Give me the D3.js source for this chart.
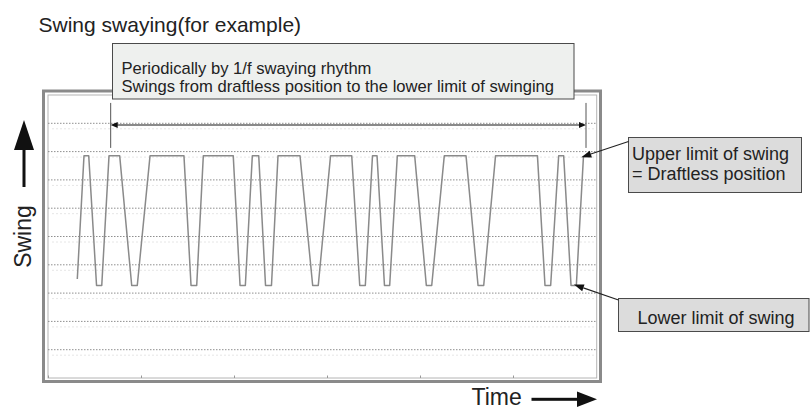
<!DOCTYPE html>
<html><head><meta charset="utf-8">
<script src="https://cdn.jsdelivr.net/npm/d3@7"></script>
<style>html,body{margin:0;padding:0;background:#fff;} svg{display:block;font-family:"Liberation Sans",Arial,Helvetica,sans-serif;}</style>
</head><body><svg id="c" width="810" height="408"></svg>
<script>
// ---- data ----
const UP = 7.85, LO = 3.27;
const swingTimes  = [3.15, 3.87, 4.38, 5.22, 5.78, 6.56, 7.71, 9.0, 9.6, 10.97, 14.62, 15.38, 15.99,
  16.70, 19.92, 20.65, 21.22, 21.97, 22.66, 23.39, 24.03, 24.73, 27.10, 28.46, 29.06,
  30.38, 32.66, 33.52, 34.12, 34.89, 35.38, 36.18, 36.74, 37.56, 39.43, 40.68, 41.26,
  42.61, 44.95, 46.24, 46.85, 48.12, 52.63, 53.44, 54.05, 54.91, 55.45, 56.24, 56.81, 57.58];
const swingLevels = [3.5, UP, UP, LO, LO, UP, UP, LO, LO, UP, UP, LO, LO,
  UP, UP, LO, LO, UP, UP, LO, LO, UP, UP, LO, LO,
  UP, UP, LO, LO, UP, UP, LO, LO, UP, UP, LO, LO,
  UP, UP, LO, LO, UP, UP, LO, LO, UP, UP, LO, LO, UP];
const gridLevels = [1, 2, 3, 4, 5, 6, 7, 8, 9];
const timeTicks = [0, 10, 20, 30, 40, 50];
const spanTimes = [6.74, 57.85];
const spanLevel = 8.94, spanMarkTop = 9.72, spanMarkBottom = 8.13;
const upperTip = [57.35, 7.8], lowerTip = [56.55, 3.3];
const titleText = "Swing swaying(for example)";
const noteLines = ["Periodically by 1/f swaying rhythm", "Swings from draftless position to the lower limit of swinging"];
const upperLines = ["Upper limit of swing", "= Draftless position"];
const lowerText = "Lower limit of swing";
const yLabel = "Swing", xLabel = "Time";

// ---- layout ----
const svg = d3.select("#c");
const L = 48, R = 596.7, T = 95, B = 378;
const x = d3.scaleLinear().domain([0, 59]).range([L, R]);
const y = d3.scaleLinear().domain([0, 10]).range([B, T]);

svg.append("rect").attr("width", 810).attr("height", 408).attr("fill", "#fff");

// inner frame
svg.append("rect").attr("x", L).attr("y", T).attr("width", R - L).attr("height", B - T)
  .attr("fill", "#fff").attr("stroke", "#b4b4b4").attr("stroke-width", 1);

// ghost lines
svg.append("g").selectAll("line").data(gridLevels).join("line")
  .attr("x1", L + 4).attr("x2", R - 2)
  .attr("y1", d => y(d) + 5.5).attr("y2", d => y(d) + 5.5)
  .attr("stroke", "#e6e6e6").attr("stroke-width", 1).attr("stroke-dasharray", "2,2");

// gridlines
svg.append("g").selectAll("line").data(gridLevels).join("line")
  .attr("x1", L).attr("x2", R)
  .attr("y1", d => y(d)).attr("y2", d => y(d))
  .attr("stroke", "#8f8f8f").attr("stroke-width", 1).attr("stroke-dasharray", "1.5,1.5");

// bottom ticks
const ax = svg.append("g").attr("transform", `translate(0,${B})`)
  .call(d3.axisBottom(x).tickValues(timeTicks).tickSize(-2.5).tickFormat(""));
ax.select(".domain").remove();
ax.selectAll(".tick line").attr("stroke", "#999");

// waveform
const pts = swingTimes.map((t, i) => [t, swingLevels[i]]);
svg.append("path").datum(pts)
  .attr("d", d3.line().x(d => x(d[0])).y(d => y(d[1])))
  .attr("fill", "none").attr("stroke", "#8a8a8a").attr("stroke-width", 1.5)
  .attr("stroke-linejoin", "round");

// span markers
spanTimes.forEach(t => {
  svg.append("line").attr("x1", x(t)).attr("x2", x(t))
    .attr("y1", y(spanMarkTop)).attr("y2", y(spanMarkBottom))
    .attr("stroke", "#555").attr("stroke-width", 1);
});
svg.append("line").attr("x1", x(spanTimes[0]) + 4).attr("x2", x(spanTimes[1]) - 4)
  .attr("y1", y(spanLevel)).attr("y2", y(spanLevel))
  .attr("stroke", "#8a8a8a").attr("stroke-width", 1.8);
const sx0 = x(spanTimes[0]), sx1 = x(spanTimes[1]), sy = y(spanLevel);
svg.append("path").attr("d", `M${sx0},${sy} L${sx0 + 7},${sy - 3} L${sx0 + 7},${sy + 3} Z`).attr("fill", "#111");
svg.append("path").attr("d", `M${sx1},${sy} L${sx1 - 7},${sy - 3} L${sx1 - 7},${sy + 3} Z`).attr("fill", "#111");

// outer frame
svg.append("rect").attr("x", 43.5).attr("y", 91).attr("width", 557).attr("height", 290.5)
  .attr("fill", "none").attr("stroke", "#8a8a8a").attr("stroke-width", 3);

// title
svg.append("text").attr("x", 38.5).attr("y", 32).attr("font-size", 21).attr("fill", "#222").text(titleText);

// note box
svg.append("rect").attr("x", 112.5).attr("y", 43.5).attr("width", 461.5).attr("height", 55.5)
  .attr("fill", "#eef0ee").attr("stroke", "#4a4a4a").attr("stroke-width", 1);
svg.append("text").attr("font-size", 16.6).attr("fill", "#222")
  .selectAll("tspan").data(noteLines).join("tspan")
  .attr("x", 121.5).attr("y", (d, i) => 73.5 + i * 18.5).text(d => d);

// upper limit box
svg.append("rect").attr("x", 628.5).attr("y", 137.5).attr("width", 173).attr("height", 55)
  .attr("fill", "#dcdcdc").attr("stroke", "#4a4a4a").attr("stroke-width", 1);
svg.append("text").attr("font-size", 18).attr("fill", "#222")
  .selectAll("tspan").data(upperLines).join("tspan")
  .attr("x", 632).attr("y", (d, i) => 159.5 + i * 20.5).text(d => d);

// lower limit box
svg.append("rect").attr("x", 618.5).attr("y", 298.5).attr("width", 190.5).attr("height", 33)
  .attr("fill", "#dcdcdc").attr("stroke", "#4a4a4a").attr("stroke-width", 1);
svg.append("text").attr("x", 637.5).attr("y", 324).attr("font-size", 18).attr("fill", "#222").text(lowerText);

// annotation arrows
function arrow(x0, y0, x1, y1) {
  const a = Math.atan2(y1 - y0, x1 - x0), len = 10, w = 3.5;
  const bx = x1 - len * Math.cos(a), by = y1 - len * Math.sin(a);
  svg.append("line").attr("x1", x0).attr("y1", y0).attr("x2", bx).attr("y2", by)
    .attr("stroke", "#222").attr("stroke-width", 1.1);
  const px = -Math.sin(a) * w, py = Math.cos(a) * w;
  svg.append("path").attr("d", `M${x1},${y1} L${bx + px},${by + py} L${bx - px},${by - py} Z`).attr("fill", "#111");
}
arrow(628.5, 141.5, x(upperTip[0]), y(upperTip[1]));
arrow(618.5, 300, x(lowerTip[0]), y(lowerTip[1]));

// Swing label + up arrow
svg.append("text").attr("transform", "translate(31,236.5) rotate(-90)")
  .attr("text-anchor", "middle").attr("font-size", 23).attr("fill", "#222").text(yLabel);
svg.append("rect").attr("x", 22.5).attr("y", 148).attr("width", 3).attr("height", 39).attr("fill", "#111");
svg.append("path").attr("d", "M24,120 L34,150 L14,150 Z").attr("fill", "#111");

// Time label + right arrow
svg.append("text").attr("x", 471.5).attr("y", 404.5).attr("font-size", 23).attr("fill", "#222").text(xLabel);
svg.append("rect").attr("x", 531.5).attr("y", 397.8).attr("width", 47).attr("height", 3).attr("fill", "#111");
svg.append("path").attr("d", "M577,391.5 L597,399.3 L577,407 Z").attr("fill", "#111");
</script></body></html>
